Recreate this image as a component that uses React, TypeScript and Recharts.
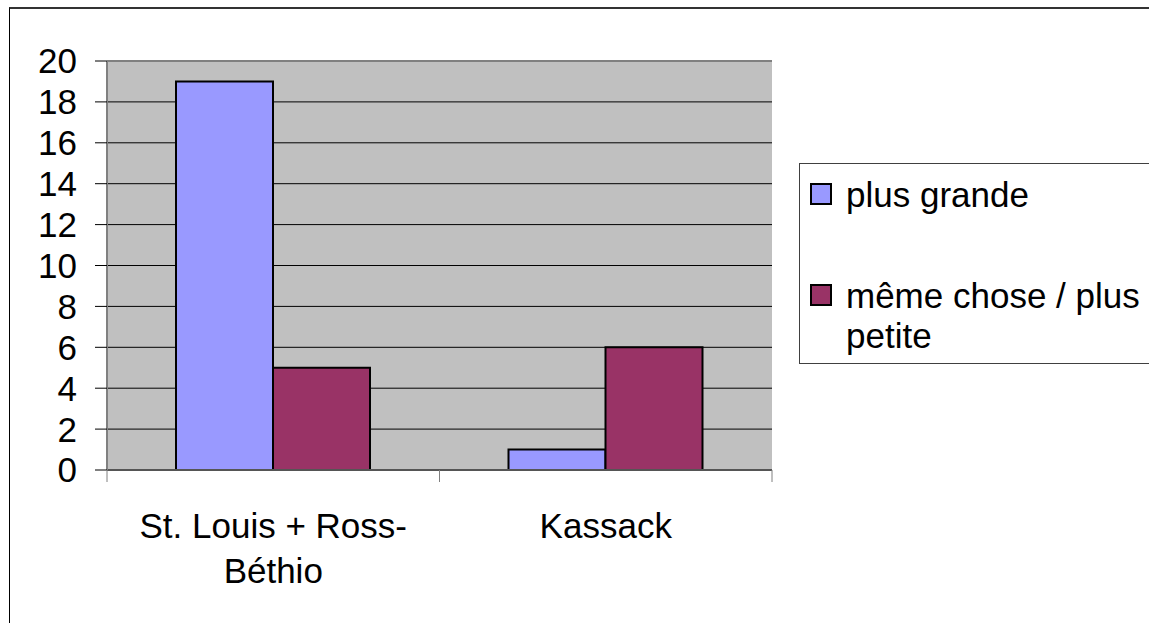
import React from 'react';
import { BarChart, Bar, XAxis, YAxis, CartesianGrid, ReferenceLine, Legend } from 'recharts';

const FONT = '"Liberation Sans", Arial, sans-serif';

const categories = ['St. Louis + Ross-\nBéthio', 'Kassack'];
const plusGrande = [19, 1];
const memeChose = [5, 6];
const yTicks = [0, 2, 4, 6, 8, 10, 12, 14, 16, 18, 20];

const series = [
  { key: 'plusGrande', name: 'plus grande', color: '#9999ff' },
  { key: 'memeChose', name: 'même chose / plus petite', color: '#993366' },
];

const data = categories.map((name, i) => ({
  name,
  plusGrande: plusGrande[i],
  memeChose: memeChose[i],
}));

// two-line category labels, split on '\n'; tick marks sit on the category edges
const CategoryTick = (props: any) => {
  const { x, y, payload, index, width, visibleTicksCount } = props;
  const band = width / (visibleTicksCount || categories.length);
  const lines = String(payload.value).split('\n');
  const isLast = index === (visibleTicksCount || categories.length) - 1;
  return (
    <g>
      <line x1={x - band / 2} x2={x - band / 2} y1={y} y2={y + 12} stroke="#808080" />
      {isLast && <line x1={x + band / 2} x2={x + band / 2} y1={y} y2={y + 12} stroke="#808080" />}
      <text x={x} y={y} textAnchor="middle" fontSize={35} fill="#000" fontFamily={FONT}>
        {lines.map((line, i) => (
          <tspan key={i} x={x} dy={i === 0 ? 68 : 45}>
            {line}
          </tspan>
        ))}
      </text>
    </g>
  );
};

const LegendBox = () => (
  <div
    style={{
      border: '1px solid #404040',
      width: 400,
      height: 199,
      background: '#fff',
      fontFamily: FONT,
      fontSize: 35,
      lineHeight: '40px',
      color: '#000',
      textAlign: 'left',
    }}
  >
    {series.map((s, i) => (
      <div key={s.key} style={{ display: 'flex', alignItems: 'flex-start', marginTop: i === 0 ? 11 : 61 }}>
        <span
          style={{
            display: 'inline-block',
            flex: 'none',
            width: 18,
            height: 18,
            marginLeft: 10,
            marginTop: 8,
            background: s.color,
            border: '2px solid #000',
          }}
        />
        <span style={{ marginLeft: 14, width: 320 }}>{s.name}</span>
      </div>
    ))}
  </div>
);

export default function App() {
  return (
    <div
      style={{
        position: 'absolute',
        left: 0,
        top: 0,
        width: 1149,
        height: 623,
        overflow: 'hidden',
        background: '#fff',
      }}
    >
      <div
        style={{
          position: 'absolute',
          left: 9,
          top: 7,
          width: 1200,
          height: 700,
          borderLeft: '1px solid #000',
          borderTop: '2px solid #333',
        }}
      />
      <div style={{ position: 'absolute', left: 0, top: 0 }}>
        <BarChart
          width={1149}
          height={623}
          data={data}
          margin={{ top: 61, right: 377, bottom: 23, left: 7 }}
          barGap={0}
        >
          <CartesianGrid vertical={false} stroke="#000" fill="#c0c0c0" fillOpacity={1} />
          <XAxis
            dataKey="name"
            type="category"
            height={130}
            axisLine={{ stroke: '#555', strokeWidth: 2 }}
            tickLine={false}
            tickSize={0}
            tickMargin={0}
            interval={0}
            tick={<CategoryTick />}
          />
          <YAxis
            domain={[0, 20]}
            ticks={yTicks}
            interval={0}
            width={100}
            tickSize={12}
            tickMargin={18}
            tickLine={{ stroke: '#000' }}
            axisLine={{ stroke: '#808080', strokeWidth: 2 }}
            tick={{ fontSize: 35, fill: '#000', fontFamily: FONT }}
          />
          <YAxis
            yAxisId="right"
            orientation="right"
            domain={[0, 20]}
            width={0}
            tick={false}
            tickLine={false}
            axisLine={{ stroke: '#808080', strokeWidth: 2 }}
          />
          <ReferenceLine y={20} stroke="#808080" strokeWidth={2} />
          <Legend
            layout="vertical"
            align="center"
            verticalAlign="middle"
            wrapperStyle={{ left: 799, top: 163, width: 402, height: 201 }}
            content={<LegendBox />}
          />
          {series.map((s) => (
            <Bar
              key={s.key}
              dataKey={s.key}
              name={s.name}
              fill={s.color}
              stroke="#000"
              strokeWidth={2}
              barSize={97}
              isAnimationActive={false}
            />
          ))}
        </BarChart>
      </div>
    </div>
  );
}
